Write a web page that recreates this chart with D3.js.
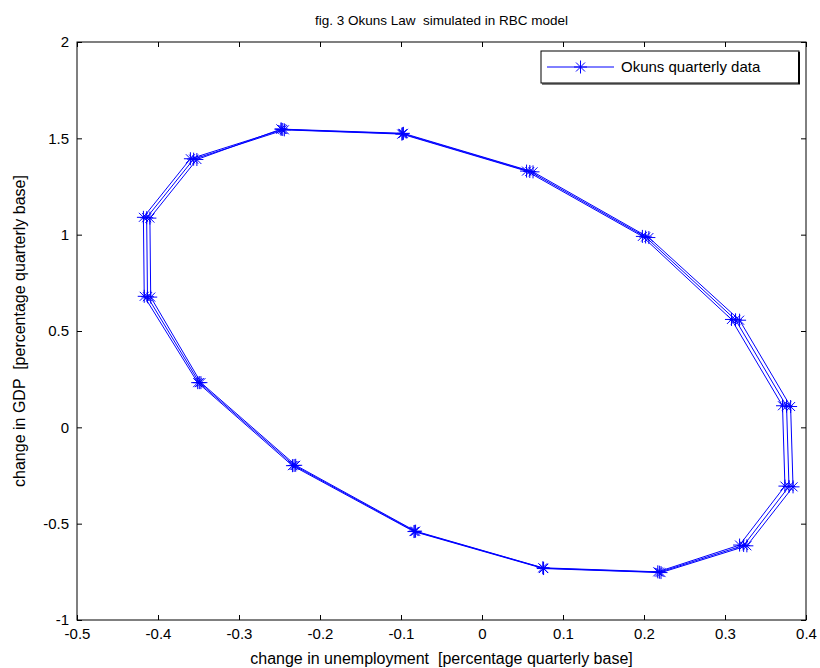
<!doctype html>
<html lang="en">
  <head>
    <meta charset="utf-8">
    <title>Okuns Law</title>
    <style>
        body { margin: 0; background: #fff; }
        text { font-family: "Liberation Sans", Arial, sans-serif; fill: #000; white-space: pre; }
        .axis path, .axis line { stroke: #000; }
        .series { fill: none; stroke: #0000ff; stroke-width: 1px; }
        .marker { stroke: #0000ff; stroke-width: 1px; fill: none; }
    </style>
  </head>
  <body>
    <svg width="820" height="668"></svg>
    <script src="https://d3js.org/d3.v7.min.js"></script>
    <script>
        // three passes around the cycle
        var loop1X = [-0.248, -0.097, 0.063, 0.206, 0.318, 0.381, 0.384, 0.327, 0.221, 0.076, -0.084, -0.234, -0.351, -0.417, -0.418, -0.360];
        var loop1Y = [1.548, 1.526, 1.326, 0.985, 0.556, 0.108, -0.309, -0.615, -0.754, -0.733, -0.541, -0.199, 0.232, 0.680, 1.090, 1.394];
        var loop2X = [-0.246, -0.098, 0.059, 0.202, 0.313, 0.376, 0.379, 0.323, 0.219, 0.076, -0.083, -0.232, -0.349, -0.413, -0.414, -0.356];
        var loop2Y = [1.546, 1.524, 1.328, 0.988, 0.558, 0.110, -0.307, -0.613, -0.752, -0.731, -0.540, -0.198, 0.232, 0.678, 1.088, 1.392];
        var loop3X = [-0.244, -0.099, 0.055, 0.198, 0.308, 0.371, 0.374, 0.318, 0.217, 0.075, -0.082, -0.230, -0.347, -0.409, -0.410, -0.352];
        var loop3Y = [1.544, 1.522, 1.330, 0.991, 0.560, 0.112, -0.305, -0.611, -0.750, -0.729, -0.539, -0.197, 0.232, 0.676, 1.086, 1.390];

        var xTicks = [-0.5, -0.4, -0.3, -0.2, -0.1, 0, 0.1, 0.2, 0.3, 0.4];
        var yTicks = [-1, -0.5, 0, 0.5, 1, 1.5, 2];

        var title = "fig. 3 Okuns Law  simulated in RBC model";
        var xLabel = "change in unemployment  [percentage quarterly base]";
        var yLabel = "change in GDP  [percentage quarterly base]";
        var legendLabel = "Okuns quarterly data";

        var loops = [[loop1X, loop1Y], [loop2X, loop2Y], [loop3X, loop3Y]];
        var points = [];
        loops.forEach(l => {
            l[0].forEach((v, i) => points.push({x: v, y: l[1][i]}));
        });
        points.push(points[0]);

        var plotL = 77, plotR = 806, plotT = 42, plotB = 620;
        var x = d3.scaleLinear().domain([-0.5, 0.4]).range([plotL, plotR]);
        var y = d3.scaleLinear().domain([-1, 2]).range([plotB, plotT]);

        var svg = d3.select("svg");

        // box
        svg.append("rect")
            .attr("x", plotL).attr("y", plotT)
            .attr("width", plotR - plotL).attr("height", plotB - plotT)
            .attr("fill", "#fff").attr("stroke", "#000").attr("stroke-width", 1);

        function fmt(d) { return d === 0 ? "0" : String(d); }

        svg.append("g").attr("class", "axis")
            .attr("transform", "translate(0," + plotB + ")")
            .call(d3.axisBottom(x).tickValues(xTicks).tickSizeInner(-5).tickSizeOuter(0).tickPadding(8).tickFormat(fmt))
            .call(g => g.select(".domain").remove())
            .selectAll("text").style("font-size", "15px");

        svg.append("g").attr("class", "axis")
            .attr("transform", "translate(0," + plotT + ")")
            .call(d3.axisTop(x).tickValues(xTicks).tickSizeInner(-5).tickSizeOuter(0).tickFormat(""))
            .call(g => g.select(".domain").remove());

        svg.append("g").attr("class", "axis")
            .attr("transform", "translate(" + plotL + ",0)")
            .call(d3.axisLeft(y).tickValues(yTicks).tickSizeInner(-5).tickSizeOuter(0).tickPadding(8).tickFormat(fmt))
            .call(g => g.select(".domain").remove())
            .selectAll("text").style("font-size", "15px");

        svg.append("g").attr("class", "axis")
            .attr("transform", "translate(" + plotR + ",0)")
            .call(d3.axisRight(y).tickValues(yTicks).tickSizeInner(-5).tickSizeOuter(0).tickFormat(""))
            .call(g => g.select(".domain").remove());

        // data line
        var line = d3.line().x(d => x(d.x)).y(d => y(d.y));
        svg.append("path").datum(points).attr("class", "series").attr("d", line);

        function star(g, cx, cy) {
            var r = 6.5, s = 4.5;
            g.append("path").attr("class", "marker")
                .attr("d", "M" + (cx - r) + "," + cy + "H" + (cx + r) +
                           "M" + cx + "," + (cy - r) + "V" + (cy + r) +
                           "M" + (cx - s) + "," + (cy - s) + "L" + (cx + s) + "," + (cy + s) +
                           "M" + (cx - s) + "," + (cy + s) + "L" + (cx + s) + "," + (cy - s));
        }

        var mg = svg.append("g");
        points.forEach(p => star(mg, x(p.x), y(p.y)));

        // title and labels
        svg.append("text").attr("x", (plotL + plotR) / 2).attr("y", 25)
            .attr("text-anchor", "middle").style("font-size", "13.5px").text(title);
        svg.append("text").attr("x", (plotL + plotR) / 2).attr("y", 664)
            .attr("text-anchor", "middle").style("font-size", "16px").text(xLabel);
        svg.append("text")
            .attr("transform", "translate(25," + ((plotT + plotB) / 2) + ") rotate(-90)")
            .attr("text-anchor", "middle").style("font-size", "16px").text(yLabel);

        // legend
        var lg = svg.append("g");
        lg.append("rect").attr("x", 541).attr("y", 51).attr("width", 258).attr("height", 32)
            .attr("fill", "#fff").attr("stroke", "#000").attr("stroke-width", 1);
        lg.append("line").attr("x1", 799).attr("y1", 52).attr("x2", 799).attr("y2", 84)
            .attr("stroke", "#000").attr("stroke-width", 2);
        lg.append("line").attr("x1", 542).attr("y1", 84).attr("x2", 800).attr("y2", 84)
            .attr("stroke", "#000").attr("stroke-width", 1);
        lg.append("line").attr("x1", 547).attr("y1", 67).attr("x2", 614).attr("y2", 67)
            .attr("class", "series");
        star(lg, 580.5, 67);
        lg.append("text").attr("x", 621).attr("y", 72).style("font-size", "15px").text(legendLabel);
    </script>
  </body>
</html>
